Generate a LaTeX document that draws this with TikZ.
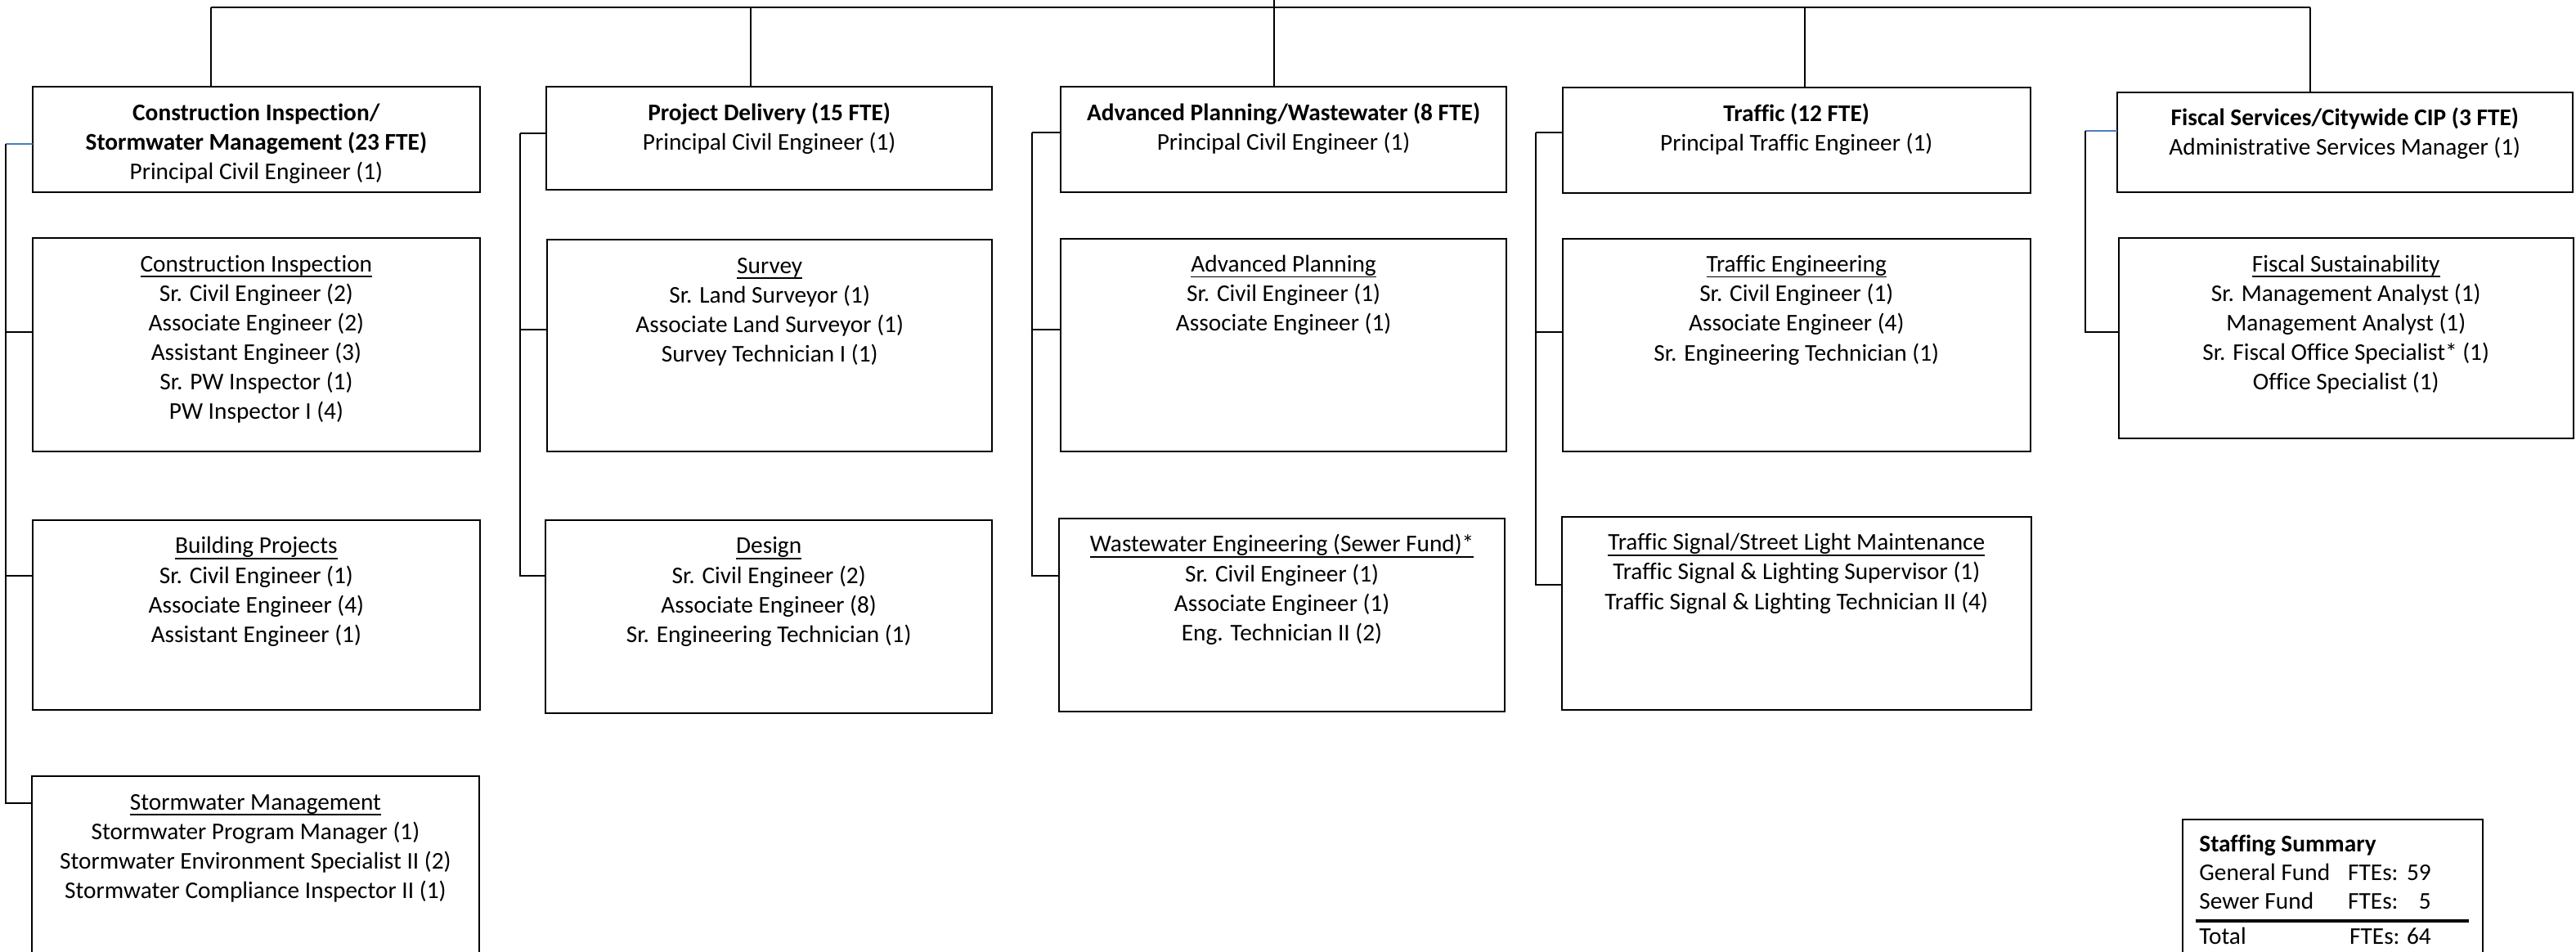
\documentclass[tikz,border=0pt]{standalone}
\usepackage{fontspec}
\setmainfont{Carlito}[Ligatures=NoCommon]
\definecolor{tickblue}{RGB}{74,126,187}
\newsavebox\myulbox
\newcommand\myul[1]{\sbox\myulbox{#1}\rlap{\rule[-3.3pt]{\wd\myulbox}{0.9pt}}\usebox\myulbox}
\begin{document}
\begin{tikzpicture}[x=1pt,y=-1pt,
  box/.style={draw=black, line width=1pt, rectangle, inner sep=0pt, outer sep=0pt, anchor=north west},
  txt/.style={font=\fontsize{14.6}{17.95}\selectfont, align=center, inner sep=0pt, anchor=north},
  ssl/.style={font=\fontsize{14.6}{17.95}\selectfont, inner sep=0pt, anchor=base west},
  ssr/.style={font=\fontsize{14.6}{17.95}\selectfont, inner sep=0pt, anchor=base east},
  conn/.style={draw=black, line width=1pt},
  busline/.style={draw=black, line width=1.3pt},
  bluetick/.style={draw=tickblue, line width=1pt}]
\useasboundingbox (0,0) rectangle (1568,579);
\clip (0,0) rectangle (1568,579);

% ---------- column 1 ----------
\node[box, minimum width=272, minimum height=64] (h1) at (20,53) {};
\node[txt] (h1t) at ([yshift=-7.6pt]h1.north) {\strut\textbf{Construction Inspection/}\\\textbf{Stormwater Management (23 FTE)}\\Principal Civil Engineer (1)};
\node[box, minimum width=272, minimum height=130] (ci) at (20,145) {};
\node[txt] (cit) at ([yshift=-7.6pt]ci.north) {\strut\myul{Construction Inspection}\\Sr. Civil Engineer (2)\\Associate Engineer (2)\\Assistant Engineer (3)\\Sr. PW Inspector (1)\\PW Inspector I (4)};
\node[box, minimum width=272, minimum height=115.4] (bp) at (20,316.6) {};
\node[txt] (bpt) at ([yshift=-7.6pt]bp.north) {\strut\myul{Building Projects}\\Sr. Civil Engineer (1)\\Associate Engineer (4)\\Assistant Engineer (1)};
\node[box, minimum width=272, minimum height=112] (sw) at (19.5,472.5) {};
\node[txt] (swt) at ([yshift=-7.6pt]sw.north) {\strut\myul{Stormwater Management}\\Stormwater Program Manager (1)\\Stormwater Environment Specialist II (2)\\Stormwater Compliance Inspector II (1)};

% ---------- column 2 ----------
\node[box, minimum width=271.5, minimum height=62.5] (h2) at (332.5,53) {};
\node[txt] (h2t) at ([yshift=-7.6pt]h2.north) {\strut\textbf{Project Delivery (15 FTE)}\\Principal Civil Engineer (1)};
\node[box, minimum width=271, minimum height=129] (sv) at (333,146) {};
\node[txt] (svt) at ([yshift=-7.6pt]sv.north) {\strut\myul{Survey}\\Sr. Land Surveyor (1)\\Associate Land Surveyor (1)\\Survey Technician I (1)};
\node[box, minimum width=272, minimum height=117.4] (ds) at (332,316.6) {};
\node[txt] (dst) at ([yshift=-7.6pt]ds.north) {\strut\myul{Design}\\Sr. Civil Engineer (2)\\Associate Engineer (8)\\Sr. Engineering Technician (1)};

% ---------- column 3 ----------
\node[box, minimum width=271.4, minimum height=64] (h3) at (645.6,53) {};
\node[txt] (h3t) at ([yshift=-7.6pt]h3.north) {\strut\textbf{Advanced Planning/Wastewater (8 FTE)}\\Principal Civil Engineer (1)};
\node[box, minimum width=271.4, minimum height=129.7] (ap) at (645.6,145.3) {};
\node[txt] (apt) at ([yshift=-7.6pt]ap.north) {\strut\myul{Advanced Planning}\\Sr. Civil Engineer (1)\\Associate Engineer (1)};
\node[box, minimum width=271.4, minimum height=117.4] (ww) at (644.6,315.6) {};
\node[txt] (wwt) at ([yshift=-7.6pt]ww.north) {\strut\myul{Wastewater Engineering (Sewer Fund)*}\\Sr. Civil Engineer (1)\\Associate Engineer (1)\\Eng. Technician II (2)};

% ---------- column 4 ----------
\node[box, minimum width=285, minimum height=64] (h4) at (951,53.5) {};
\node[txt] (h4t) at ([yshift=-7.6pt]h4.north) {\strut\textbf{Traffic (12 FTE)}\\Principal Traffic Engineer (1)};
\node[box, minimum width=285, minimum height=129.7] (te) at (951,145.3) {};
\node[txt] (tet) at ([yshift=-7.6pt]te.north) {\strut\myul{Traffic Engineering}\\Sr. Civil Engineer (1)\\Associate Engineer (4)\\Sr. Engineering Technician (1)};
\node[box, minimum width=285.6, minimum height=117.4] (ts) at (950.7,314.6) {};
\node[txt] (tst) at ([yshift=-7.6pt]ts.north) {\strut\myul{Traffic Signal/Street Light Maintenance}\\Traffic Signal \& Lighting Supervisor (1)\\Traffic Signal \& Lighting Technician II (4)};

% ---------- column 5 ----------
\node[box, minimum width=277.5, minimum height=61] (h5) at (1288.5,56) {};
\node[txt] (h5t) at ([yshift=-7.6pt]h5.north) {\strut\textbf{Fiscal Services/Citywide CIP (3 FTE)}\\Administrative Services Manager (1)};
\node[box, minimum width=277, minimum height=122] (fs) at (1289.5,145) {};
\node[txt] (fst) at ([yshift=-7.6pt]fs.north) {\strut\myul{Fiscal Sustainability}\\Sr. Management Analyst (1)\\Management Analyst (1)\\Sr. Fiscal Office Specialist* (1)\\Office Specialist (1)};

% ---------- staffing summary ----------
\node[box, minimum width=182.5, minimum height=120] (ss) at (1328.5,499) {};
\node[ssl] (s0) at (1338.5,518.5) {\textbf{Staffing Summary}};
\node[ssl] (s1) at (1338.5,536) {General Fund};
\node[ssl] (s1f) at (1429,536) {FTEs:};
\node[ssr] (s1n) at (1480,536) {59};
\node[ssl] (s2) at (1338.5,553.5) {Sewer Fund};
\node[ssl] (s2f) at (1429,553.5) {FTEs:};
\node[ssr] (s2n) at (1480,553.5) {5};
\node[ssl] (s3) at (1338.5,574.5) {Total};
\node[ssl] (s3f) at (1430,574.5) {FTEs:};
\node[ssr] (s3n) at (1480,574.5) {64};
\draw[line width=1.7pt] ([xshift=8pt,yshift=-61.5pt]ss.north west) -- ([xshift=-8pt,yshift=-61.5pt]ss.north east);

% ---------- top bus ----------
\coordinate (busy) at (0,4.5);
\coordinate (top) at (775.5,0);
\coordinate (v1) at ([xshift=-27.5pt]h1.north);
\coordinate (v2) at ([xshift=-11.25pt]h2.north);
\coordinate (v3) at ([xshift=-5.8pt]h3.north);
\coordinate (v4) at ([xshift=5.2pt]h4.north);
\coordinate (v5) at ([xshift=-21pt]h5.north);
\draw[busline] (v1 |- busy) -- (v5 |- busy);
\draw[conn] (v1 |- busy) -- (v1);
\draw[conn] (v2 |- busy) -- (v2);
\draw[conn] (top) -- (v3);
\draw[conn] (v4 |- busy) -- (v4);
\draw[conn] (v5 |- busy) -- (v5);

% ---------- side brackets ----------
\coordinate (b1) at (3.5,87.5);
\draw[bluetick] (b1) -- (b1 -| h1.west);
\draw[conn] (b1) |- ([yshift=8pt]ci.west);
\draw[conn] (b1) |- ([yshift=24pt]bp.west);
\draw[conn] (b1) |- ([yshift=39.7pt]sw.west);

\coordinate (b2) at (316.6,81);
\draw[conn] (h2.west |- b2) -- (b2);
\draw[conn] (b2) |- ([yshift=9.9pt]sv.west);
\draw[conn] (b2) |- ([yshift=24.8pt]ds.west);

\coordinate (b3) at (628,80.5);
\draw[conn] (h3.west |- b3) -- (b3);
\draw[conn] (b3) |- ([yshift=9.5pt]ap.west);
\draw[conn] (b3) |- ([yshift=23.8pt]ww.west);

\coordinate (b4) at (935,80.5);
\draw[conn] (h4.west |- b4) -- (b4);
\draw[conn] (b4) |- ([yshift=8.2pt]te.west);
\draw[conn] (b4) |- ([yshift=17.3pt]ts.west);

\coordinate (b5) at (1269.5,79.5);
\draw[bluetick] (b5) -- (b5 -| h5.west);
\draw[conn] (b5) |- ([yshift=4pt]fs.west);
\end{tikzpicture}
\end{document}
